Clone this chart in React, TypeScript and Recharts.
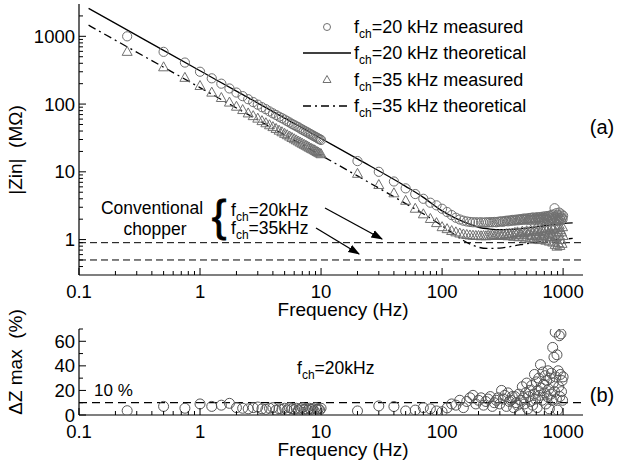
import { ComposedChart, Line, ReferenceLine, Scatter, XAxis, YAxis } from 'recharts';

const FONT = '"Liberation Sans", Arial, sans-serif';

// measured frequencies (Hz)
const freqs = [
  0.25, 0.5, 0.75, 1, 1.25, 1.5, 1.75, 2, 2.25, 2.5,
  2.75, 3, 3.25, 3.5, 3.75, 4, 4.25, 4.5, 4.75, 5,
  5.25, 5.5, 5.75, 6, 6.25, 6.5, 6.75, 7, 7.25, 7.5,
  7.75, 8, 8.25, 8.5, 8.75, 9, 9.25, 9.5, 9.75, 10,
  20, 30, 40, 50, 60, 70, 80, 90, 100,
  110, 120, 130, 140, 150, 160, 170, 180, 190, 200,
  210, 220, 230, 240, 250, 260, 270, 280, 290, 300,
  310, 320, 330, 340, 350, 360, 370, 380, 390, 400,
  410, 420, 430, 440, 450, 460, 470, 480, 490, 500,
  510, 520, 530, 540, 550, 560, 570, 580, 590, 600,
  610, 620, 630, 640, 650, 660, 670, 680, 690, 700,
  710, 720, 730, 740, 750, 760, 770, 780, 790, 800,
  810, 820, 830, 840, 850, 860, 870, 880, 890, 900,
  910, 920, 930, 940, 950, 960, 970, 980, 990, 1000,
];

// |Zin| measured, fch = 20 kHz (MOhm)
const zMeas20 = [
  1000, 590, 410, 300, 240, 200, 170, 148, 131, 118,
  107, 98, 90, 84, 78, 73, 69, 65, 62, 59,
  56, 53.5, 51, 49, 47, 45.5, 43.5, 42, 40.5, 39.2,
  38, 36.8, 35.7, 34.6, 33.7, 32.7, 31.9, 31, 30.3, 29.5,
  14.4, 10, 7.2, 5.7, 4.7, 4.0, 3.5, 3.2, 2.85,
  2.55, 2.3, 2.1, 1.98, 1.9, 1.85, 1.82, 1.8, 1.8, 1.79,
  1.8, 1.78, 1.8, 1.79, 1.81, 1.8, 1.82, 1.8, 1.83, 1.84,
  1.86, 1.83, 1.88, 1.9, 1.86, 1.92, 1.89, 1.95, 1.9, 1.96,
  1.92, 1.98, 1.93, 2.0, 1.95, 2.02, 1.96, 2.05, 1.97, 2.0,
  2.06, 1.95, 2.08, 1.98, 2.1, 1.96, 2.12, 2.0, 2.08, 1.94,
  2.14, 2.02, 2.1, 1.96, 2.15, 2.05, 1.98, 2.18, 2.08, 1.95,
  2.2, 2.1, 2.0, 2.22, 1.92, 2.15, 2.25, 2.05, 1.9, 2.3,
  2.1, 2.0, 2.35, 1.85, 2.9, 2.2, 2.05, 2.45, 1.95, 2.3,
  2.1, 1.88, 2.5, 2.05, 2.2, 1.92, 2.35, 2.1, 2.0, 2.25,
];

// |Zin| measured, fch = 35 kHz (MOhm)
const zMeas35 = [
  600, 355, 248, 188, 150, 125, 107, 93, 83, 74,
  67.5, 62, 57, 53, 49.5, 46.5, 43.7, 41.2, 39, 37,
  35.3, 33.7, 32.2, 30.8, 29.6, 28.5, 27.4, 26.4, 25.5, 24.7,
  23.9, 23.1, 22.4, 21.8, 21.2, 20.6, 20, 19.5, 19, 18.5,
  9.5, 6.5, 4.9, 3.8, 2.9, 2.4, 2.05, 1.78, 1.55,
  1.45, 1.36, 1.3, 1.25, 1.21, 1.19, 1.17, 1.16, 1.15, 1.15,
  1.14, 1.15, 1.14, 1.16, 1.15, 1.17, 1.15, 1.18, 1.16, 1.19,
  1.15, 1.2, 1.16, 1.22, 1.14, 1.23, 1.17, 1.25, 1.12, 1.28,
  1.18, 1.3, 1.1, 1.26, 1.2, 1.33, 1.12, 1.28, 1.05, 1.35,
  1.2, 1.3, 1.08, 1.38, 1.15, 1.3, 1.02, 1.4, 1.18, 1.32,
  1.1, 1.42, 1.22, 1.0, 1.35, 1.15, 1.45, 1.05, 1.3, 1.2,
  1.48, 0.98, 1.35, 1.12, 1.5, 1.25, 0.95, 1.4, 1.1, 1.55,
  1.2, 0.92, 1.45, 1.05, 1.6, 0.85, 1.3, 1.1, 0.8, 1.5,
  0.9, 1.25, 1.65, 0.82, 1.4, 1.0, 1.3, 0.88, 1.55, 1.15,
];

// delta Z max (%), fch = 20 kHz
const dzMax20 = [
  3.5, 7, 5.5, 9, 7, 8, 9.5, 6, 5.5, 5,
  6, 6.5, 5, 4.5, 5.5, 6, 4, 5, 4.5, 5.5,
  4, 6, 5, 4.5, 5.5, 4, 5, 6, 4.5, 5,
  4, 5.5, 4.5, 5, 3.5, 6, 4.5, 5, 4, 5.5,
  3.3, 7.4, 6.9, 3.3, 4, 6, 5, 3.3, 2.7,
  5.8, 9, 8, 12, 6, 11, 14, 16, 9, 12,
  14, 8, 11, 13, 15, 7, 10, 12, 14, 9,
  20, 13, 16, 7, 18, 11, 12, 15, 6, 15,
  10, 8, 17, 1.6, 12, 23, 14, 9, 18, 26,
  5, 15, 20, 11, 24, 8, 17, 33, 13, 27,
  6, 20, 30, 16, 41, 22, 12, 35, 25, 18,
  32, 9, 28, 15, 36, 21, 5, 30, 17, 34,
  12, 55, 26, 47, 19, 67.5, 31, 13, 49, 4,
  36, 23, 64.5, 15, 33, 66, 19, 28, 12, 31,
];

// theoretical curves
const theory20Freqs = [0.12, 0.2, 0.5, 1, 2, 5, 10, 20, 50, 70, 100, 130, 160, 200, 250, 300, 400, 500, 700, 1000, 1200];
const theory20 = [2580, 1550, 620, 310, 155, 62, 31, 15.5, 6.1, 4.2, 2.65, 2.05, 1.75, 1.52, 1.43, 1.4, 1.42, 1.48, 1.6, 1.72, 1.76];
const theory35Freqs = [0.12, 0.2, 0.5, 1, 2, 5, 10, 20, 50, 70, 100, 130, 150, 180, 235, 300, 400, 500, 700, 1000, 1200];
const theory35 = [1460, 875, 350, 175, 87.5, 35, 17.5, 8.7, 3.4, 2.4, 1.6, 1.15, 0.97, 0.82, 0.74, 0.75, 0.81, 0.87, 0.95, 1.01, 1.04];

// conventional chopper levels
const conv20 = 0.9;
const conv35 = 0.5;
const dzLimit = 10;

const xTicks = [
  0.1, 0.2, 0.3, 0.4, 0.5, 0.6, 0.7, 0.8, 0.9,
  1, 2, 3, 4, 5, 6, 7, 8, 9,
  10, 20, 30, 40, 50, 60, 70, 80, 90,
  100, 200, 300, 400, 500, 600, 700, 800, 900, 1000,
];
const xLabels = [0.1, 1, 10, 100, 1000];
const zTicks = [
  0.4, 0.5, 0.6, 0.7, 0.8, 0.9,
  1, 2, 3, 4, 5, 6, 7, 8, 9,
  10, 20, 30, 40, 50, 60, 70, 80, 90,
  100, 200, 300, 400, 500, 600, 700, 800, 900,
  1000, 2000,
];
const zLabels = [1, 10, 100, 1000];
const dzTicks = [0, 10, 20, 30, 40, 50, 60, 70];
const dzLabels = [0, 20, 40, 60];

const meas20 = freqs.map((f, i) => ({ f, z: zMeas20[i] }));
const meas35 = freqs.map((f, i) => ({ f, z: zMeas35[i] }));
const dzData = freqs.map((f, i) => ({ f, dz: dzMax20[i] }));
const th20 = theory20Freqs.map((f, i) => ({ f, z: theory20[i] }));
const th35 = theory35Freqs.map((f, i) => ({ f, z: theory35[i] }));

const makeTick = (side: string, labels: number[], showLabel: boolean) => (props: any) => {
  const { x, y, payload } = props;
  const v = payload.value;
  const major = labels.includes(v);
  const len = major ? 7 : 4;
  let line;
  if (side === 'bottom') line = <line x1={x} x2={x} y1={y} y2={y - len} stroke="#000" />;
  else if (side === 'top') line = <line x1={x} x2={x} y1={y} y2={y + len} stroke="#000" />;
  else if (side === 'left') line = <line x1={x} x2={x + len} y1={y} y2={y} stroke="#000" />;
  else line = <line x1={x} x2={x - len} y1={y} y2={y} stroke="#000" />;
  return (
    <g>
      {line}
      {showLabel && major && side === 'bottom' && (
        <text x={x} y={y + 23} textAnchor="middle" fontSize={18.5} fontFamily={FONT} fill="#000">
          {String(v)}
        </text>
      )}
      {showLabel && major && side === 'left' && (
        <text x={x - 4} y={y + 6.5} textAnchor="end" fontSize={18.5} fontFamily={FONT} fill="#000">
          {String(v)}
        </text>
      )}
    </g>
  );
};

const OpenCircle = (props: any) => (
  <circle cx={props.cx} cy={props.cy} r={4.6} fill="none" stroke="#707070" strokeWidth={1} />
);
const OpenCircleB = (props: any) => (
  <circle cx={props.cx} cy={props.cy} r={5} fill="none" stroke="#555" strokeWidth={1} />
);
const OpenTriangle = (props: any) => (
  <polygon
    points={`${props.cx},${props.cy - 5} ${props.cx + 5},${props.cy + 4} ${props.cx - 5},${props.cy + 4}`}
    fill="none"
    stroke="#707070"
    strokeWidth={1}
  />
);

const axisLine = { stroke: '#000', strokeWidth: 1.2 };

const Sub = ({ rest }: { rest: string }) => (
  <>
    f<tspan fontSize={12} dy={5}>ch</tspan>
    <tspan dy={-5}>{rest}</tspan>
  </>
);

export default function App() {
  return (
    <div style={{ position: 'absolute', left: 0, top: 0, width: 624, height: 464, background: '#fff', fontFamily: FONT }}>
      <div style={{ position: 'absolute', left: 0, top: 0 }}>
        <ComposedChart width={624} height={320} margin={{ top: 4, right: 41, bottom: 0, left: 0 }}>
          <XAxis xAxisId="b" type="number" dataKey="f" scale="log" domain={[0.1, 1460]} allowDataOverflow ticks={xTicks}
            interval={0} tickSize={0} tickMargin={0} tickLine={false} axisLine={axisLine} height={45}
            tick={makeTick('bottom', xLabels, true)} />
          <XAxis xAxisId="t" orientation="top" type="number" dataKey="f" scale="log" domain={[0.1, 1460]} allowDataOverflow ticks={xTicks}
            interval={0} tickSize={0} tickMargin={0} tickLine={false} axisLine={axisLine} height={0}
            tick={makeTick('top', xLabels, false)} />
          <YAxis yAxisId="l" type="number" dataKey="z" scale="log" domain={[0.3, 3000]} allowDataOverflow ticks={zTicks}
            interval={0} tickSize={0} tickMargin={0} tickLine={false} axisLine={axisLine} width={79}
            tick={makeTick('left', zLabels, true)} />
          <YAxis yAxisId="r" orientation="right" type="number" dataKey="z" scale="log" domain={[0.3, 3000]} allowDataOverflow ticks={zTicks}
            interval={0} tickSize={0} tickMargin={0} tickLine={false} axisLine={axisLine} width={0}
            tick={makeTick('right', zLabels, false)} />
          <ReferenceLine xAxisId="b" yAxisId="l" y={conv20} stroke="#000" strokeDasharray="7 4" />
          <ReferenceLine xAxisId="b" yAxisId="l" y={conv35} stroke="#000" strokeDasharray="7 4" />
          <Scatter xAxisId="b" yAxisId="l" data={meas20} dataKey="z" shape={OpenCircle} isAnimationActive={false} />
          <Scatter xAxisId="b" yAxisId="l" data={meas35} dataKey="z" shape={OpenTriangle} isAnimationActive={false} />
          <Line xAxisId="b" yAxisId="l" data={th20} dataKey="z" type="monotone" stroke="#000" strokeWidth={1.3}
            dot={false} isAnimationActive={false} />
          <Line xAxisId="b" yAxisId="l" data={th35} dataKey="z" type="monotone" stroke="#000" strokeWidth={1.3}
            strokeDasharray="8 4 2 4" dot={false} isAnimationActive={false} />
        </ComposedChart>
      </div>
      <div style={{ position: 'absolute', left: 0, top: 320 }}>
        <ComposedChart width={624} height={144} margin={{ top: 9, right: 41, bottom: 0, left: 0 }}>
          <XAxis xAxisId="b" type="number" dataKey="f" scale="log" domain={[0.1, 1460]} allowDataOverflow ticks={xTicks}
            interval={0} tickSize={0} tickMargin={0} tickLine={false} axisLine={axisLine} height={49}
            tick={makeTick('bottom', xLabels, true)} />
          <XAxis xAxisId="t" orientation="top" type="number" dataKey="f" scale="log" domain={[0.1, 1460]} allowDataOverflow ticks={xTicks}
            interval={0} tickSize={0} tickMargin={0} tickLine={false} axisLine={axisLine} height={0}
            tick={makeTick('top', xLabels, false)} />
          <YAxis yAxisId="l" type="number" dataKey="dz" domain={[0, 70]} allowDataOverflow ticks={dzTicks}
            interval={0} tickSize={0} tickMargin={0} tickLine={false} axisLine={axisLine} width={79}
            tick={makeTick('left', dzLabels, true)} />
          <YAxis yAxisId="r" orientation="right" type="number" dataKey="dz" domain={[0, 70]} allowDataOverflow ticks={dzTicks}
            interval={0} tickSize={0} tickMargin={0} tickLine={false} axisLine={axisLine} width={0}
            tick={makeTick('right', dzLabels, false)} />
          <Scatter xAxisId="b" yAxisId="l" data={dzData} dataKey="dz" shape={OpenCircleB} isAnimationActive={false} />
          <ReferenceLine xAxisId="b" yAxisId="l" y={dzLimit} stroke="#000" strokeWidth={1.3} strokeDasharray="8 5" />
        </ComposedChart>
      </div>
      <svg width={624} height={464} style={{ position: 'absolute', left: 0, top: 0, pointerEvents: 'none' }}
        fontFamily={FONT} fill="#000">
        <defs>
          <marker id="arrowHead" viewBox="0 0 10 10" refX="9" refY="5" markerWidth="9" markerHeight="9" orient="auto">
            <path d="M0,1.5 L10,5 L0,8.5 Z" fill="#000" />
          </marker>
        </defs>
        {/* axis titles */}
        <text transform="translate(22,150) rotate(-90)" textAnchor="middle" fontSize={19} style={{ whiteSpace: 'pre' }}>
          {'|Zin|  (MΩ)'}
        </text>
        <text transform="translate(22,362) rotate(-90)" textAnchor="middle" fontSize={19} style={{ whiteSpace: 'pre' }}>
          {'ΔZ max  (%)'}
        </text>
        <text x={343} y={316} textAnchor="middle" fontSize={19}>Frequency (Hz)</text>
        <text x={343} y={456} textAnchor="middle" fontSize={19}>Frequency (Hz)</text>
        <text x={602} y={134} textAnchor="middle" fontSize={20}>(a)</text>
        <text x={602} y={402} textAnchor="middle" fontSize={20}>(b)</text>
        {/* legend */}
        <circle cx={327} cy={27} r={3.5} fill="none" stroke="#707070" />
        <line x1={303} x2={351} y1={53} y2={53} stroke="#000" strokeWidth={1.3} />
        <polygon points="327,75.5 331,82.5 323,82.5" fill="none" stroke="#707070" />
        <line x1={303} x2={351} y1={106} y2={106} stroke="#000" strokeWidth={1.3} strokeDasharray="8 4 2 4" />
        <text x={354} y={33} fontSize={18}><Sub rest="=20 kHz measured" /></text>
        <text x={354} y={59} fontSize={18}><Sub rest="=20 kHz theoretical" /></text>
        <text x={354} y={86} fontSize={18}><Sub rest="=35 kHz measured" /></text>
        <text x={354} y={112} fontSize={18}><Sub rest="=35 kHz theoretical" /></text>
        {/* conventional chopper annotation */}
        <text x={152} y={214} textAnchor="middle" fontSize={17.5}>Conventional</text>
        <text x={155} y={235} textAnchor="middle" fontSize={17.5}>chopper</text>
        <text x={219} y={231} textAnchor="middle" fontSize={44} stroke="#000" strokeWidth={0.8}>{'{'}</text>
        <text x={231} y={216} fontSize={17.5}><Sub rest="=20kHz" /></text>
        <text x={231} y={234} fontSize={17.5}><Sub rest="=35kHz" /></text>
        <line x1={325} y1={208} x2={382} y2={239} stroke="#000" strokeWidth={1.3} markerEnd="url(#arrowHead)" />
        <line x1={316} y1={228} x2={359} y2={254} stroke="#000" strokeWidth={1.3} markerEnd="url(#arrowHead)" />
        {/* panel b annotations */}
        <text x={94} y={396} fontSize={17}>10 %</text>
        <text x={297} y={374} fontSize={17.5}><Sub rest="=20kHz" /></text>
      </svg>
    </div>
  );
}
